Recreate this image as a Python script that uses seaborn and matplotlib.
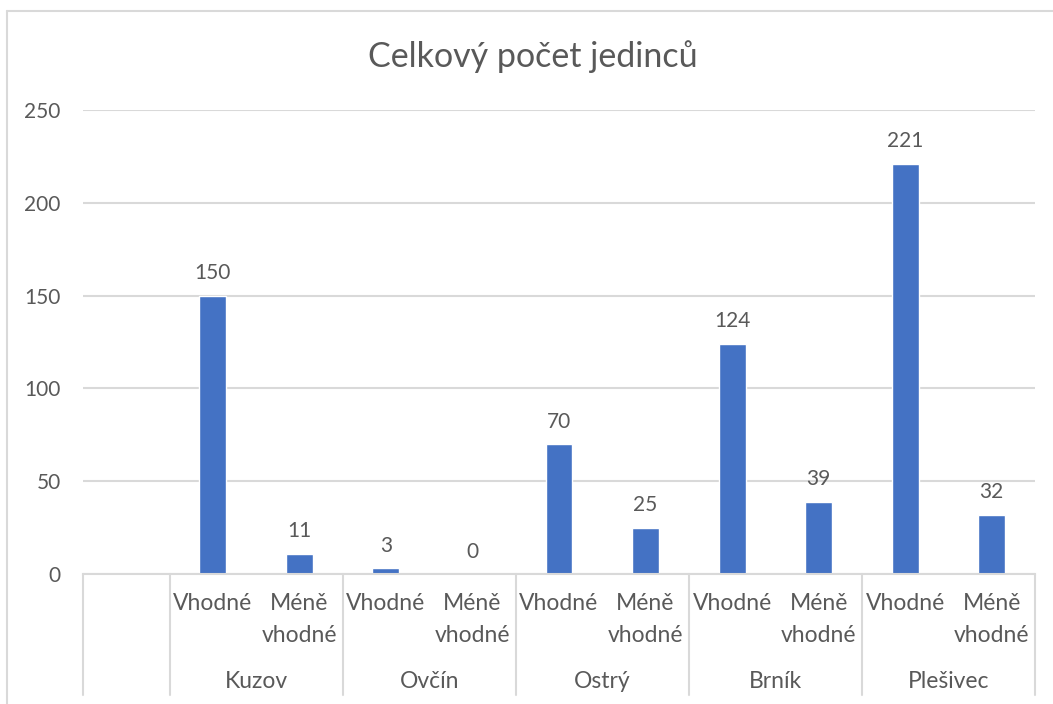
import numpy as np
import pandas as pd
import matplotlib.pyplot as plt
import seaborn as sns
from matplotlib.lines import Line2D
from matplotlib.transforms import blended_transform_factory

# --- DATA ---
sites = ["Kuzov", "Ovčín", "Ostrý", "Brník", "Plešivec"]
habitats = ["Vhodné", "Méně vhodné"]
vhodne = [150, 3, 70, 124, 221]
mene_vhodne = [11, 0, 25, 39, 32]
y_ticks = [0, 50, 100, 150, 200, 250]

rows = []
for site, v, m in zip(sites, vhodne, mene_vhodne):
    rows.append({"slot": f"{site}|{habitats[0]}", "site": site, "habitat": habitats[0], "count": v})
    rows.append({"slot": f"{site}|{habitats[1]}", "site": site, "habitat": habitats[1], "count": m})
df = pd.DataFrame(rows)
order = [""] + list(df["slot"])   # Excel leaves an empty first slot

# --- STYLE ---
sns.set_style("white")
plt.rcParams["font.family"] = ["Lato", "DejaVu Sans"]
TEXT = "#595959"
GRID = "#D9D9D9"
BAR = "#4472C4"
CAT_FS = 16.5

W, H = 1053, 704
fig = plt.figure(figsize=(W / 100, H / 100), dpi=100)
ax = fig.add_axes([83 / W, 1 - 574 / H, (1035 - 83) / W, (574 - 110) / H])

sns.barplot(data=df, x="slot", y="count", order=order, color=BAR,
            width=0.31, saturation=1, ax=ax, errorbar=None)

ax.set_ylim(0, 250)
ax.set_xlim(-0.5, len(order) - 0.5)
ax.set_yticks(y_ticks)
ax.set_yticklabels([str(t) for t in y_ticks], fontsize=15, color=TEXT)
ax.tick_params(axis="y", length=0, pad=16)
ax.set_xticks([])
ax.set_xlabel("")
ax.set_ylabel("")
ax.yaxis.grid(True, color=GRID, linewidth=1.5)
ax.set_axisbelow(True)
for side in ["left", "right", "top"]:
    ax.spines[side].set_visible(False)
ax.spines["bottom"].set_color(GRID)
ax.spines["bottom"].set_linewidth(1.5)

# value labels
for cont in ax.containers:
    ax.bar_label(cont, fmt="%d", padding=9, fontsize=15, color=TEXT)

# --- MULTI-LEVEL CATEGORY AXIS ---
tr = blended_transform_factory(ax.transData, fig.transFigure)
def fy(py):
    return 1 - py / H

for i, key in enumerate(order):
    if not key:
        continue
    site, hab = key.split("|")
    if hab == habitats[0]:
        ax.text(i, fy(603), hab, transform=tr, ha="center", va="center",
                fontsize=CAT_FS, color=TEXT, clip_on=False)
    else:
        first, second = hab.split(" ")
        ax.text(i, fy(603), first, transform=tr, ha="center", va="center",
                fontsize=CAT_FS, color=TEXT, clip_on=False)
        ax.text(i, fy(635), second, transform=tr, ha="center", va="center",
                fontsize=CAT_FS, color=TEXT, clip_on=False)

for j, site in enumerate(sites):
    ax.text(1.5 + 2 * j, fy(681), site, transform=tr, ha="center", va="center",
            fontsize=CAT_FS, color=TEXT, clip_on=False)

for xb in [-0.5] + [0.5 + 2 * j for j in range(len(sites) + 1)]:
    ax.add_line(Line2D([xb, xb], [fy(574), fy(695)], transform=tr,
                       color=GRID, linewidth=1.5, clip_on=False))

# title
fig.text(533 / W, fy(57), "Celkový počet jedinců", ha="center", va="center",
         fontsize=24.5, color=TEXT)

# chart border (only top and left visible in the crop)
fig.add_artist(Line2D([7 / W, 7 / W], [fy(11), 0], transform=fig.transFigure,
                      color=GRID, linewidth=1.5))
fig.add_artist(Line2D([7 / W, 1], [fy(11), fy(11)], transform=fig.transFigure,
                      color=GRID, linewidth=1.5))

fig.savefig("out.png", dpi=100)
plt.close(fig)
